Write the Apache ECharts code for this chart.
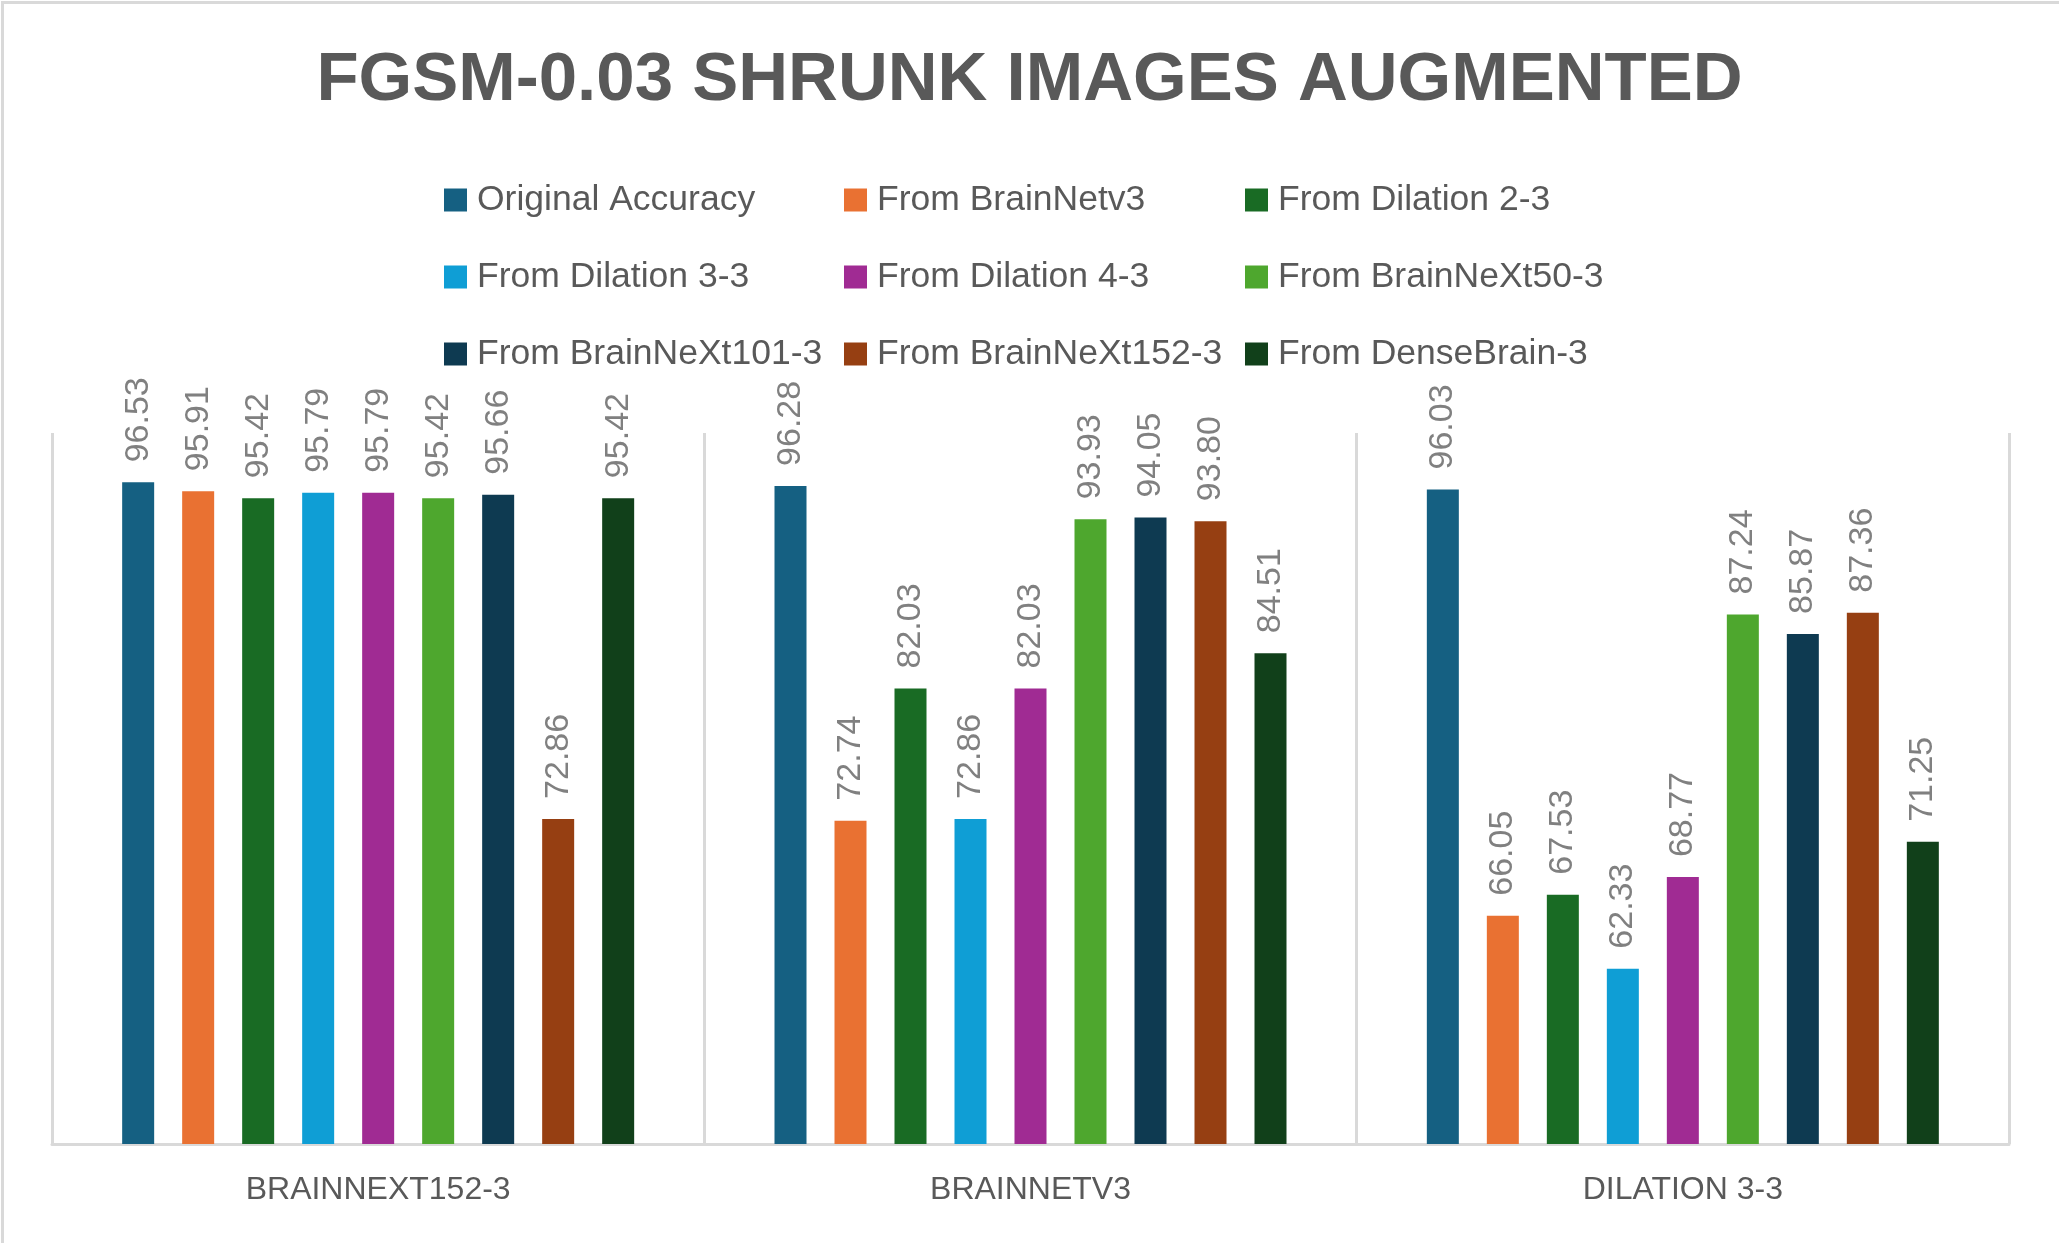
<!DOCTYPE html>
<html>
<head>
<meta charset="utf-8">
<title>FGSM-0.03 Shrunk Images Augmented</title>
<script src="https://cdn.jsdelivr.net/npm/echarts@6/dist/echarts.min.js"></script>
<style>
    html, body { margin: 0; padding: 0; background: #ffffff; }
    #main { width: 2059px; height: 1243px; }
</style>
</head>
<body>
<div id="main"></div>
<script>
// 横轴分组
const categories = ['BRAINNEXT152-3', 'BRAINNETV3', 'DILATION 3-3']

// 每个系列在三个分组里的准确率
const originalAccuracy = [96.53, 96.28, 96.03]
const fromBrainNetv3 = [95.91, 72.74, 66.05]
const fromDilation23 = [95.42, 82.03, 67.53]
const fromDilation33 = [95.79, 72.86, 62.33]
const fromDilation43 = [95.79, 82.03, 68.77]
const fromBrainNeXt50 = [95.42, 93.93, 87.24]
const fromBrainNeXt101 = [95.66, 94.05, 85.87]
const fromBrainNeXt152 = [72.86, 93.80, 87.36]
const fromDenseBrain = [95.42, 84.51, 71.25]

const seriesNames = [
    'Original Accuracy', 'From BrainNetv3', 'From Dilation 2-3',
    'From Dilation 3-3', 'From Dilation 4-3', 'From BrainNeXt50-3',
    'From BrainNeXt101-3', 'From BrainNeXt152-3', 'From DenseBrain-3'
]
const seriesData = [
    originalAccuracy, fromBrainNetv3, fromDilation23,
    fromDilation33, fromDilation43, fromBrainNeXt50,
    fromBrainNeXt101, fromBrainNeXt152, fromDenseBrain
]
const colors = [
    '#156082', '#e97132', '#196b24',
    '#0f9ed5', '#a02b93', '#4ea72e',
    '#0e3a51', '#963f12', '#11401a'
]

const FONT = '"Liberation Sans", Arial, sans-serif'

// 保留两位小数，93.8 -> 93.80
function twoDecimal (num) {
    return Number(num).toFixed(2)
}

// 图例按列排：每列一个竖向图例
function legendColumn (names, left) {
    return {
        orient: 'vertical',
        left: left,
        top: 180,
        padding: 0,
        itemGap: 37,
        itemWidth: 23,
        itemHeight: 23,
        icon: 'rect',
        selectedMode: false,
        data: names,
        textStyle: {
            fontFamily: FONT,
            fontSize: 35.5,
            lineHeight: 40,
            color: '#595959',
            padding: [0, 0, 0, 5]
        }
    }
}

const series = seriesNames.map((name, i) => ({
    name: name,
    type: 'bar',
    data: seriesData[i],
    barWidth: 32,
    barGap: '87.5%',
    itemStyle: { color: colors[i] },
    label: {
        show: true,
        position: 'top',
        rotate: 90,
        align: 'left',
        verticalAlign: 'middle',
        distance: 20,
        fontFamily: FONT,
        fontSize: 34,
        color: '#808080',
        formatter: p => twoDecimal(p.value)
    }
}))

const option = {
    animation: false,
    backgroundColor: '#ffffff',
    color: colors,
    title: {
        text: 'FGSM-0.03 SHRUNK IMAGES AUGMENTED',
        left: 'center',
        top: 46,
        padding: 0,
        textStyle: {
            fontFamily: FONT,
            fontSize: 69,
            fontWeight: 'bold',
            color: '#595959'
        }
    },
    legend: [
        legendColumn([seriesNames[0], seriesNames[3], seriesNames[6]], 444),
        legendColumn([seriesNames[1], seriesNames[4], seriesNames[7]], 844),
        legendColumn([seriesNames[2], seriesNames[5], seriesNames[8]], 1245)
    ],
    grid: {
        left: 52,
        right: 50,
        top: 433,
        bottom: 99,
        containLabel: false
    },
    xAxis: {
        type: 'category',
        data: categories,
        boundaryGap: true,
        axisLine: { show: true, lineStyle: { color: '#d9d9d9', width: 3 } },
        axisTick: { show: false },
        splitLine: { show: true, lineStyle: { color: '#d9d9d9', width: 3 } },
        axisLabel: {
            margin: 30,
            fontFamily: FONT,
            fontSize: 32,
            color: '#595959'
        }
    },
    yAxis: {
        type: 'value',
        min: 50,
        max: 100,
        show: false,
        splitLine: { show: false }
    },
    graphic: [{
        type: 'rect',
        left: 0,
        top: 0,
        shape: { width: 2058, height: 1242 },
        style: { fill: 'none', stroke: '#d9d9d9', lineWidth: 3 },
        silent: true
    }],
    series: series
}

const chart = echarts.init(document.getElementById('main'), null, { renderer: 'canvas' })
chart.setOption(option)
</script>
</body>
</html>
